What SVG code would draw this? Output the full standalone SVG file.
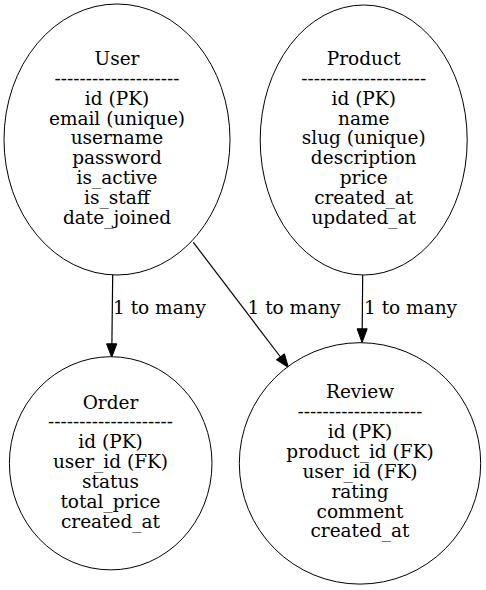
<svg xmlns="http://www.w3.org/2000/svg" width="486" height="590" viewBox="0 0 486 590">
<style>
text{font-family:"DejaVu Serif","Liberation Serif",serif;font-size:18.5px;fill:#000;text-anchor:middle}
.node ellipse{fill:#fff;stroke:#000;stroke-width:1}
.edge line{stroke:#000;stroke-width:1.2}
.edge polygon{fill:#000;stroke:#000;stroke-width:1}
.lbl{text-anchor:start}
</style>
<rect width="486" height="590" fill="#fff"/>
<g id="edges" class="edge">
<line x1="112.7" y1="275" x2="111.9" y2="344"/>
<polygon points="106.6,343.8 111.7,357.4 116.8,343.8"/>
<text class="lbl" x="113" y="313.5">1 to many</text>
<line x1="193.3" y1="242.3" x2="280.5" y2="357"/>
<polygon points="276.4,359.8 288.4,367.4 284.4,353.8"/>
<text class="lbl" x="247.5" y="313.5">1 to many</text>
<line x1="362.7" y1="275" x2="362.2" y2="329"/>
<polygon points="357.1,328.8 362.1,342.6 367.2,328.8"/>
<text class="lbl" x="364" y="313.5">1 to many</text>
</g>
<g id="User" class="node">
<ellipse cx="117" cy="139.5" rx="113" ry="135.5"/>
<text x="117" y="65">User</text>
<text x="117" y="84.8">--------------------</text>
<text x="117" y="104.7">id (PK)</text>
<text x="117" y="124.5">email (unique)</text>
<text x="117" y="144.4">username</text>
<text x="117" y="164.2">password</text>
<text x="117" y="184">is_active</text>
<text x="117" y="203.9">is_staff</text>
<text x="117" y="223.7">date_joined</text>
</g>
<g id="Product" class="node">
<ellipse cx="363.7" cy="140" rx="103.5" ry="135"/>
<text x="363.7" y="65">Product</text>
<text x="363.7" y="84.8">--------------------</text>
<text x="363.7" y="104.7">id (PK)</text>
<text x="363.7" y="124.5">name</text>
<text x="363.7" y="144.4">slug (unique)</text>
<text x="363.7" y="164.2">description</text>
<text x="363.7" y="184">price</text>
<text x="363.7" y="203.9">created_at</text>
<text x="363.7" y="223.7">updated_at</text>
</g>
<g id="Order" class="node">
<ellipse cx="110.7" cy="463.3" rx="101.3" ry="106.6"/>
<text x="110.5" y="408.5">Order</text>
<text x="110.5" y="428.3">--------------------</text>
<text x="110.5" y="448.2">id (PK)</text>
<text x="110.5" y="468">user_id (FK)</text>
<text x="110.5" y="487.9">status</text>
<text x="110.5" y="507.7">total_price</text>
<text x="110.5" y="527.6">created_at</text>
</g>
<g id="Review" class="node">
<ellipse cx="360" cy="463.4" rx="120.7" ry="120.7"/>
<text x="360" y="398.4">Review</text>
<text x="360" y="418.2">--------------------</text>
<text x="360" y="438.1">id (PK)</text>
<text x="360" y="458">product_id (FK)</text>
<text x="360" y="477.8">user_id (FK)</text>
<text x="360" y="497.7">rating</text>
<text x="360" y="517.5">comment</text>
<text x="360" y="537.4">created_at</text>
</g>
</svg>
